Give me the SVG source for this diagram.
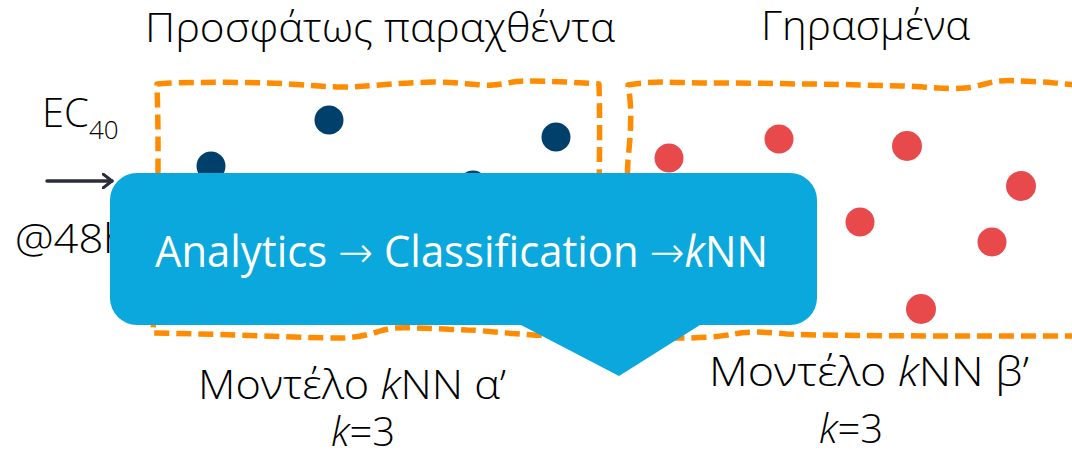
<svg xmlns="http://www.w3.org/2000/svg" width="1072" height="455" viewBox="0 0 1072 455">
  <style>
    .t { font-family: "Open Sans", "Noto Sans", "Liberation Sans", sans-serif; font-weight: 300; fill: #000; }
    .ct { font-family: "Open Sans", "Noto Sans", "Liberation Sans", sans-serif; font-weight: 400; fill: #fff; }
    .ar { font-family: "DejaVu Sans", "Liberation Sans", sans-serif; font-weight: 200; }
    .box { fill: none; stroke: #FF8C00; stroke-width: 5.5; stroke-dasharray: 15 7; stroke-linejoin: round; }
    .bd { fill: #01406A; }
    .rd { fill: #E84A4C; }
    .it { font-style: italic; }
  </style>
  <defs>
    <marker id="arr" viewBox="0 0 12 16" refX="10" refY="8" markerWidth="12" markerHeight="16" markerUnits="userSpaceOnUse" orient="auto">
      <path d="M1,1 L10,8 L1,15" fill="none" stroke="#2B2D3A" stroke-width="3" stroke-linecap="round" stroke-linejoin="round"/>
    </marker>
  </defs>
  <rect width="1072" height="455" fill="#fff"/>

  <g id="title-recent">
    <text class="t" x="145" y="42" font-size="41" textLength="470" lengthAdjust="spacingAndGlyphs">Προσφάτως παραχθέντα</text>
  </g>
  <g id="title-aged">
    <text class="t" x="761" y="40" font-size="41" textLength="209" lengthAdjust="spacingAndGlyphs">Γηρασμένα</text>
  </g>

  <g id="input-label">
    <text class="t" x="42" y="127" font-size="40">EC<tspan font-size="26" dy="12">40</tspan></text>
    <text class="t" x="15" y="253" font-size="40" textLength="114" lengthAdjust="spacingAndGlyphs">@48h</text>
  </g>

  <g id="box-recent">
    <path class="box" d="M157,84 C175,82 230,82 267,83 C300,84 320,87 343,87 C370,87 390,83 433,82 C460,82 480,86 493,85 C505,84 515,81 527,81 C545,81 570,82 599,84 C601,150 597,260 598,333 C580,334 550,336 533,335 C500,333 480,330 467,330 C440,329 410,327 395,328 C380,329 370,337 343,338 C300,338 230,334 153,333 C156,260 160,180 157,84 Z"/>
    <circle class="bd" cx="329" cy="120" r="14.5"/>
    <circle class="bd" cx="556" cy="137" r="14.5"/>
    <circle class="bd" cx="211" cy="166" r="14.5"/>
    <circle class="bd" cx="473" cy="185" r="14.5"/>
  </g>

  <g id="box-aged">
    <path class="box" d="M1080,85 C1060,84 1050,82 1040,82 C1020,81 1010,80 1000,81 C988,82 982,86 965,88 C945,90 920,86 900,86 C860,85 830,84 800,84 C760,83 720,83 700,83 C670,82 650,81 628,85 C633,110 630,140 628,160 C626,200 625,260 626,336 C640,337 660,338 683,338 C700,338 720,337 733,334 C745,332 760,331 787,334 C830,336 930,336 1080,336"/>
    <circle class="rd" cx="669" cy="158" r="14.5"/>
    <circle class="rd" cx="779" cy="139" r="14.5"/>
    <circle class="rd" cx="907" cy="146" r="15"/>
    <circle class="rd" cx="1021" cy="186" r="15"/>
    <circle class="rd" cx="860" cy="222" r="14.5"/>
    <circle class="rd" cx="992" cy="242" r="14.5"/>
    <circle class="rd" cx="921" cy="309" r="15"/>
  </g>

  <g id="connectors">
    <line x1="47" y1="181" x2="112" y2="181" stroke="#2B2D3A" stroke-width="3.5" stroke-linecap="round" marker-end="url(#arr)"/>
  </g>

  <g id="label-model-a">
    <text class="t" x="198" y="399" font-size="40" textLength="308" lengthAdjust="spacingAndGlyphs">Μοντέλο <tspan class="it">k</tspan>NN α’</text>
    <text class="t" x="331" y="446" font-size="40"><tspan class="it">k</tspan>=3</text>
  </g>
  <g id="label-model-b">
    <text class="t" x="709" y="386" font-size="40" textLength="320" lengthAdjust="spacingAndGlyphs">Μοντέλο <tspan class="it">k</tspan>NN β’</text>
    <text class="t" x="819" y="443" font-size="40"><tspan class="it">k</tspan>=3</text>
  </g>

  <g id="callout">
    <path fill="#0AA8DC" d="M137,173 H790 A27,27 0 0 1 817,200 V298 A27,27 0 0 1 790,325 H700 L619,376 L521,325 H137 A27,27 0 0 1 110,298 V200 A27,27 0 0 1 137,173 Z"/>
    <text class="ct" x="155" y="267" font-size="43" textLength="613" lengthAdjust="spacingAndGlyphs">Analytics <tspan class="ar">→</tspan> Classification <tspan class="ar">→</tspan><tspan class="it">k</tspan>NN</text>
  </g>
</svg>
